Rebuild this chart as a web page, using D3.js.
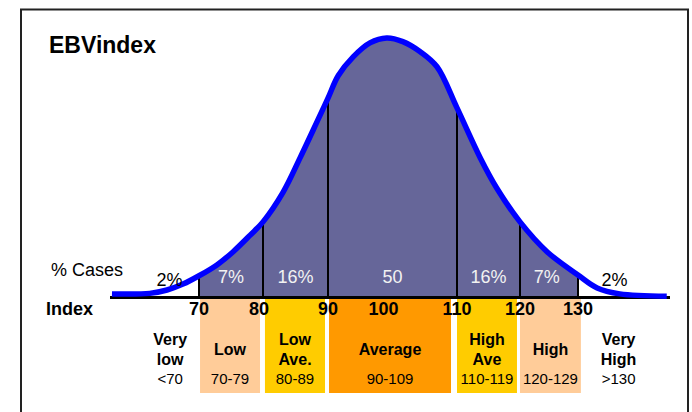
<!DOCTYPE html>
<html>
<head>
<meta charset="utf-8">
<title>EBVindex</title>
<script src="https://d3js.org/d3.v7.min.js"></script>
<style>
  body { margin: 0; background: #fff; }
  svg { display: block; font-family: "Liberation Sans", Arial, sans-serif; }
</style>
</head>
<body>
<div id="chart"></div>
<script>
// curve: [index, relative height (peak = 100)]
const curvePoints = [
  [56.4, 1.2], [62.3, 1.4], [65, 2.7], [67.5, 5.0], [70, 8.2], [72.8, 12.4],
  [75.3, 17.4], [78, 23.9], [80, 29.0], [83.1, 40.5], [85.7, 53.7], [88.3, 67.6],
  [90, 76.8], [91.6, 85.5], [93.9, 92.7], [96.5, 98.1], [99.1, 100], [101.6, 98.6],
  [104.3, 94.7], [106.9, 88.9], [110, 73.0], [113.7, 53.7], [116.3, 42.1], [120, 29.0],
  [124.7, 17.4], [130, 8.5], [133.3, 3.5], [137.2, 1.2], [145.3, 0.3]
];

const tickValues = [70, 80, 90, 100, 110, 120, 130];
const cutLines = [70, 80, 90, 110, 120, 130];

const pctLabels = ["2%", "7%", "16%", "50", "16%", "7%", "2%"];
const pctCenters = [65.4, 75, 85, 100, 115, 124.6, 136.3];
const pctInside = [false, true, true, true, true, true, false];

const bandNames = [["Very", "low"], ["Low"], ["Low", "Ave."], ["Average"], ["High", "Ave"], ["High"], ["Very", "High"]];
const bandRanges = ["<70", "70-79", "80-89", "90-109", "110-119", "120-129", ">130"];
const bandFrom = [null, 70.16, 80.3, 90.16, 110, 120, null];
const bandTo = [null, 79.53, 89.54, 109.07, 119.52, 130.5, null];
const bandCenters = [65.5, null, null, null, null, null, 137];
const bandColors = [null, "#FFCC99", "#FFCC00", "#FF9900", "#FFCC00", "#FFCC99", null];

const width = 692, height = 412;

const svg = d3.select("#chart").append("svg")
  .attr("width", width)
  .attr("height", height);

// piecewise scale - the tick spacing in the original is not quite even
const x = d3.scaleLinear()
  .domain([70, 80, 90, 110, 120, 130])
  .range([199, 263, 328, 457, 520, 578]);

const y = d3.scaleLinear()
  .domain([0, 100])
  .range([297, 38]);

// frame
svg.append("rect")
  .attr("x", 21).attr("y", 9.5)
  .attr("width", 667).attr("height", 430)
  .attr("fill", "none")
  .attr("stroke", "#222")
  .attr("stroke-width", 2);

svg.append("text")
  .attr("x", 49).attr("y", 53)
  .attr("font-size", 23).attr("font-weight", "bold")
  .text("EBVindex");

// category boxes
const bands = svg.append("g");
bandNames.forEach((name, i) => {
  let cx;
  if (bandFrom[i] != null) {
    const x0 = x(bandFrom[i]), x1 = x(bandTo[i]);
    bands.append("rect")
      .attr("x", x0).attr("y", 299)
      .attr("width", x1 - x0).attr("height", 94)
      .attr("fill", bandColors[i]);
    cx = (x0 + x1) / 2;
  } else {
    cx = x(bandCenters[i]);
  }
  const ys = name.length == 2 ? [345, 365] : [355];
  name.forEach((line, j) => {
    bands.append("text")
      .attr("x", cx).attr("y", ys[j])
      .attr("text-anchor", "middle")
      .attr("font-size", 16).attr("font-weight", "bold")
      .text(line);
  });
  bands.append("text")
    .attr("x", cx).attr("y", 383.5)
    .attr("text-anchor", "middle")
    .attr("font-size", 15)
    .text(bandRanges[i]);
});

// shaded area 70-130
svg.append("clipPath").attr("id", "mid")
  .append("rect")
  .attr("x", x(70)).attr("y", 0)
  .attr("width", x(130) - x(70)).attr("height", y(0));

const area = d3.area()
  .x(d => x(d[0]))
  .y0(y(0))
  .y1(d => y(d[1]))
  .curve(d3.curveCatmullRom.alpha(0.5));

svg.append("path")
  .datum(curvePoints)
  .attr("clip-path", "url(#mid)")
  .attr("fill", "#666699")
  .attr("d", area);

// cut lines
svg.selectAll(".cut")
  .data(cutLines)
  .enter().append("line")
  .attr("class", "cut")
  .attr("x1", d => x(d)).attr("x2", d => x(d))
  .attr("y1", y(0))
  .attr("y2", d => y(curvePoints.find(p => p[0] == d)[1]) - 2)
  .attr("stroke", "#000")
  .attr("stroke-width", 2);

// baseline
svg.append("line")
  .attr("x1", 110).attr("x2", 670)
  .attr("y1", 297.5).attr("y2", 297.5)
  .attr("stroke", "#000")
  .attr("stroke-width", 3);

// the curve
const line = d3.line()
  .x(d => x(d[0]))
  .y(d => y(d[1]))
  .curve(d3.curveCatmullRom.alpha(0.5));

svg.append("path")
  .datum(curvePoints)
  .attr("fill", "none")
  .attr("stroke", "#0000FF")
  .attr("stroke-width", 5.5)
  .attr("d", line);

// percentages
svg.selectAll(".pct")
  .data(pctLabels)
  .enter().append("text")
  .attr("class", "pct")
  .attr("x", (d, i) => x(pctCenters[i]))
  .attr("y", (d, i) => pctInside[i] ? 283 : 286)
  .attr("text-anchor", "middle")
  .attr("font-size", 18)
  .attr("fill", (d, i) => pctInside[i] ? "#f2f2f2" : "#000")
  .text(d => d);

svg.append("text")
  .attr("x", 51).attr("y", 276)
  .attr("font-size", 18)
  .text("% Cases");

svg.append("text")
  .attr("x", 46).attr("y", 315)
  .attr("font-size", 18).attr("font-weight", "bold")
  .text("Index");

svg.selectAll(".tick")
  .data(tickValues)
  .enter().append("text")
  .attr("class", "tick")
  .attr("x", d => x(d) + (d == 100 ? -9 : d == 80 ? -4 : 0))
  .attr("y", 315)
  .attr("text-anchor", "middle")
  .attr("font-size", 18).attr("font-weight", "bold")
  .text(d => d);
</script>
</body>
</html>
